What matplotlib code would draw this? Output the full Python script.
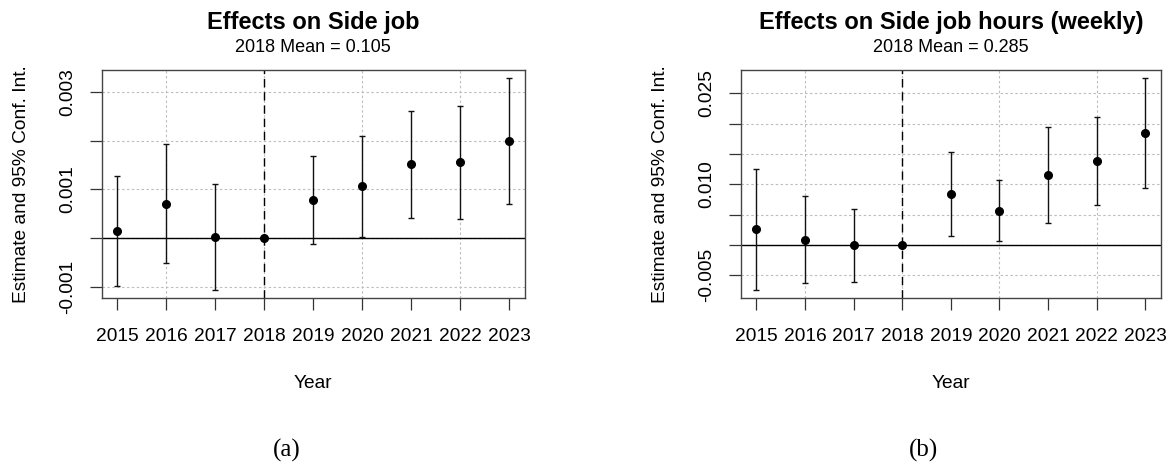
import matplotlib
matplotlib.use("Agg")
import matplotlib.pyplot as plt

plt.rcParams["font.family"] = ["Liberation Sans", "DejaVu Sans"]

years = [2015, 2016, 2017, 2018, 2019, 2020, 2021, 2022, 2023]
ref_year = 2018

# panel (a): side job (share)
job_est = [0.00015, 0.00071, 0.00002, 0.0, 0.00078, 0.00107, 0.00151, 0.00155, 0.00198]
job_lo = [-0.00097, -0.00050, -0.00105, 0.0, -0.00011, 0.00003, 0.00042, 0.00040, 0.00071]
job_hi = [0.00127, 0.00193, 0.00110, 0.0, 0.00168, 0.00210, 0.00260, 0.00271, 0.00327]
job_ticks = [-0.001, 0.0, 0.001, 0.002, 0.003]
job_labels = ["-0.001", "", "0.001", "", "0.003"]

# panel (b): side job hours per week
hrs_est = [0.00258, 0.00088, 0.0, 0.0, 0.00846, 0.00566, 0.01154, 0.01385, 0.01846]
hrs_lo = [-0.00736, -0.00632, -0.00604, 0.0, 0.00154, 0.00066, 0.00363, 0.00665, 0.00945]
hrs_hi = [0.01253, 0.00808, 0.00593, 0.0, 0.01533, 0.01071, 0.01945, 0.02110, 0.02747]
hrs_ticks = [-0.005, 0.0, 0.005, 0.010, 0.015, 0.020, 0.025]
hrs_labels = ["-0.005", "", "", "0.010", "", "", "0.025"]

grid_years = [2016, 2018, 2020, 2022]

W, H = 1173, 465
fig = plt.figure(figsize=(W / 100, H / 100), dpi=100, facecolor="white")

TXT = 13.8


def fx(px):
    return px / W


def fy(py):
    return 1 - py / H


def panel(x0, x1, est, lo, hi, ticks, labels, title, sub, tag, tag_x):
    ax = fig.add_axes([fx(x0), fy(298), fx(x1 - x0), fy(70) - fy(298)])
    yerr = [[e - l for e, l in zip(est, lo)], [h - e for e, h in zip(est, hi)]]
    ax.errorbar(years, est, yerr=yerr, fmt="o", color="black", ecolor="#111111",
                elinewidth=1.0, capsize=2.2, capthick=1.0, markersize=5.5, zorder=4)
    ax.margins(x=0.04, y=0.04)

    for t in ticks:
        ax.axhline(t, color="#bdbdbd", lw=0.8, dashes=(2.2, 2.2), zorder=1)
    for g in grid_years:
        ax.axvline(g, color="#bdbdbd", lw=0.8, dashes=(2.2, 2.2), zorder=1)
    ax.axhline(0, color="black", lw=1.0, zorder=2)
    ax.axvline(ref_year, color="black", lw=1.0, dashes=(6, 3.5), zorder=2)

    ax.set_xticks(years)
    ax.set_xticklabels([str(y) for y in years], fontsize=TXT)
    ax.set_yticks(ticks)
    ax.set_yticklabels(labels, fontsize=TXT, rotation=90, va="center")
    ax.tick_params(axis="both", length=8.6, width=0.9, color="#333333")
    ax.tick_params(axis="x", pad=13)
    ax.tick_params(axis="y", pad=10)
    for s in ax.spines.values():
        s.set_color("#444444")
        s.set_linewidth(1.0)

    cx = (x0 + x1) / 2
    fig.text(fx(cx), fy(22), title, fontsize=17, fontweight="bold", ha="center", va="center")
    fig.text(fx(cx), fy(48), sub, fontsize=13, ha="center", va="center")
    fig.text(fx(cx), fy(383), "Year", fontsize=TXT, ha="center", va="center")
    fig.text(fx(x0 - 80), fy(184), "Estimate and 95% Conf. Int.", fontsize=TXT,
             rotation=90, ha="center", va="center")
    fig.text(fx(tag_x), fy(450), tag, fontsize=18, ha="center", va="center",
             family=["Liberation Serif", "DejaVu Serif"])
    return ax


panel(101.6, 525, job_est, job_lo, job_hi, job_ticks, job_labels,
      "Effects on Side job", "2018 Mean = 0.105", "(a)", 287)
panel(740.7, 1161, hrs_est, hrs_lo, hrs_hi, hrs_ticks, hrs_labels,
      "Effects on Side job hours (weekly)", "2018 Mean = 0.285", "(b)", 924)

fig.savefig("out.png", dpi=100, facecolor="white")
